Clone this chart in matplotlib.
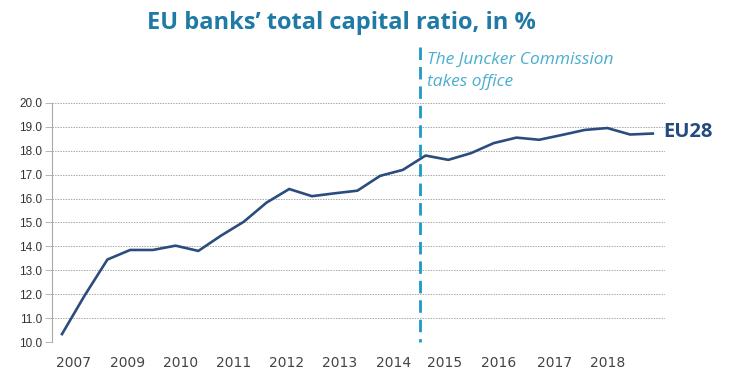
import numpy as np
import matplotlib
matplotlib.use("Agg")
import matplotlib.pyplot as plt

# EU28 total capital ratio (%), semi-annual observations
ratio = [10.33, 11.95, 13.45, 13.85, 13.85, 14.03, 13.81, 14.45, 15.03, 15.83,
         16.40, 16.10, 16.22, 16.33, 16.95, 17.20, 17.80, 17.62, 17.90, 18.32,
         18.55, 18.46, 18.66, 18.87, 18.95, 18.68, 18.72]
year_labels = ['2007', '2009', '2010', '2011', '2012', '2013', '2014',
               '2015', '2016', '2017', '2018']
year_pos = [0.5, 2.87, 5.22, 7.57, 9.89, 12.2, 14.58, 16.85, 19.2, 21.69, 24.03]
juncker_pos = 15.77
yticks = np.arange(10, 20.01, 1.0)

x = np.arange(len(ratio))

fig = plt.figure(figsize=(7.29, 3.73), dpi=100)
ax = fig.add_axes([0.0713, 0.0831, 0.8407, 0.6409])

ax.plot(x, ratio, color='#2b4d7e', lw=1.9, solid_joinstyle='round', zorder=3)

ax.set_xlim(-0.44, 26.53)
ax.set_ylim(10, 20)
ax.set_yticks(yticks)
ax.set_yticklabels([f'{v:.1f}' for v in yticks], fontsize=8.5, color='#333333',
                   family='Liberation Sans')
ax.set_xticks(year_pos)
ax.set_xticklabels(year_labels, fontsize=10, color='#444444', family='DejaVu Sans')
ax.tick_params(axis='x', length=0, pad=10)
ax.tick_params(axis='y', length=5, width=0.6, color='#aaaaaa', pad=2)

for v in yticks:
    ax.axhline(v, color='#a8a8a8', lw=0.7, ls=(0, (1.5, 1.2)), zorder=1)

for s in ['top', 'right', 'bottom']:
    ax.spines[s].set_visible(False)
ax.spines['left'].set_color('#a8a8a8')
ax.spines['left'].set_linewidth(0.8)

# Juncker Commission marker (drawn top-down so the dash pattern starts at the top)
ax.plot([juncker_pos, juncker_pos], [22.32, 10], color='#1b9bc6', lw=2.0,
        ls=(0, (4.5, 2.5)), clip_on=False, zorder=2)
ax.text(juncker_pos + 0.3, 22.12, 'The Juncker Commission\ntakes office',
        fontsize=12.5, style='italic', color='#4aaed0', family='Open Sans',
        va='top', ha='left', linespacing=1.5, clip_on=False)

ax.text(26.44, ratio[-1] + 0.05, 'EU28', fontsize=14.5, fontweight='bold',
        color='#244a7f', family='Open Sans', va='center', ha='left', clip_on=False)

fig.text(0.469, 0.938, 'EU banks\u2019 total capital ratio, in %', fontsize=17,
         fontweight='bold', color='#1f7ba6', family='Open Sans',
         ha='center', va='center')

fig.savefig('out.png', dpi=100)
